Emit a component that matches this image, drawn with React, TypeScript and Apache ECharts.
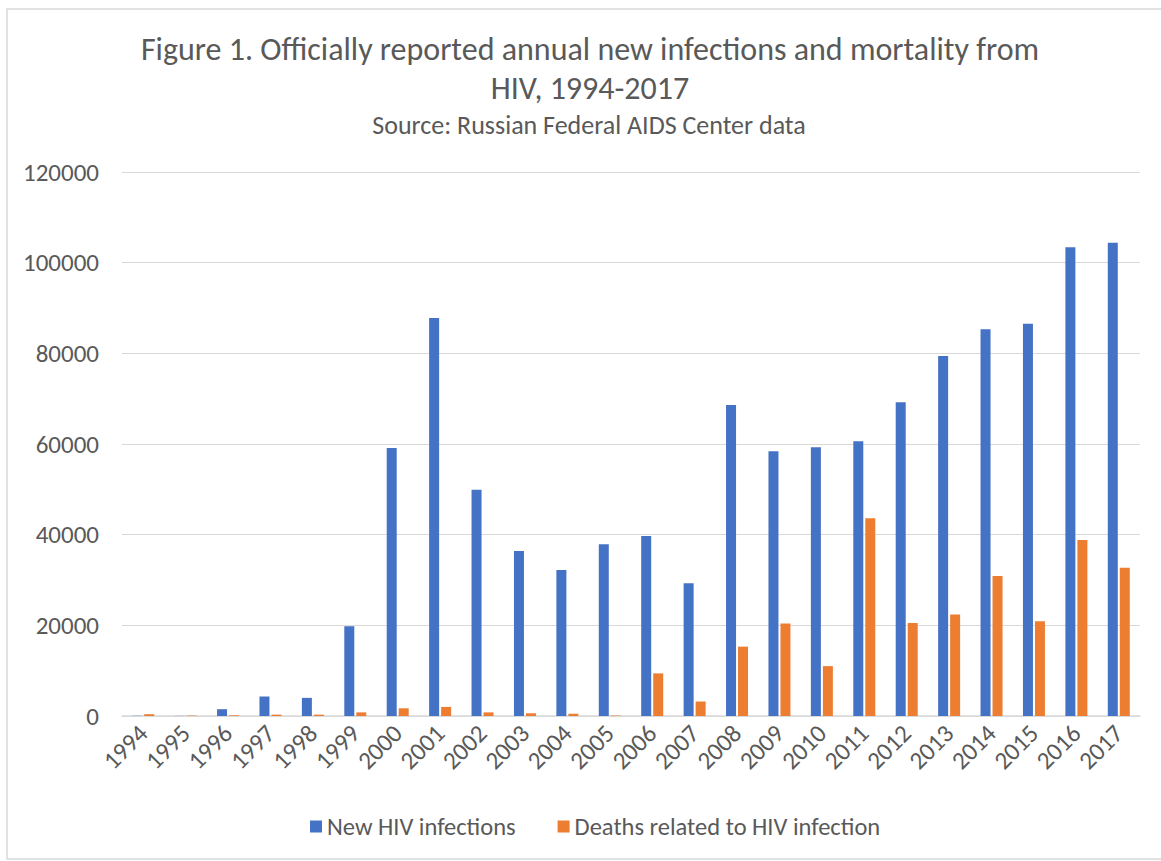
import React, { useEffect, useRef } from "react";
import * as echarts from "echarts";

const years = ["1994","1995","1996","1997","1998","1999","2000","2001","2002","2003","2004","2005","2006","2007","2008","2009","2010","2011","2012","2013","2014","2015","2016","2017"];
const newInfections = [50, 30, 1500, 4300, 4000, 19800, 59100, 87800, 49900, 36400, 32200, 37900, 39700, 29300, 68600, 58400, 59300, 60600, 69200, 79400, 85300, 86500, 103400, 104400];
const deaths = [400, 100, 150, 300, 300, 800, 1700, 2000, 800, 600, 500, 100, 9400, 3200, 15300, 20400, 11000, 43600, 20500, 22400, 30900, 20900, 38800, 32700];
const yTicks = { min: 0, max: 120000, interval: 20000 };
const titleLines = ["Figure 1. Officially reported annual new infections and mortality from", "HIV, 1994-2017"];
const subtitle = "Source: Russian Federal AIDS Center data";

const FONT = "Carlito, Calibri, Lato, sans-serif";
const TEXT = "#595959";

export default function App() {
  const ref = useRef<HTMLDivElement>(null);
  useEffect(() => {
    const chart = echarts.init(ref.current!, null, { renderer: "svg" });
    chart.setOption({
      animation: false,
      backgroundColor: "#ffffff",
      textStyle: { fontFamily: FONT },
      graphic: [
        { type: "rect", shape: { x: 7, y: 9, width: 1170, height: 850 }, style: { fill: "none", stroke: "#d9d9d9", lineWidth: 1.5 }, silent: true },
        { type: "text", x: 590, y: 49, style: { text: titleLines[0], font: `32px ${FONT}`, fill: TEXT, align: "center", verticalAlign: "middle" }, silent: true },
        { type: "text", x: 590, y: 88, style: { text: titleLines[1], font: `32px ${FONT}`, fill: TEXT, align: "center", verticalAlign: "middle" }, silent: true },
        { type: "text", x: 589, y: 125, style: { text: subtitle, font: `26px ${FONT}`, fill: TEXT, align: "center", verticalAlign: "middle" }, silent: true },
      ],
      legend: {
        top: 809,
        left: 305,
        icon: "rect",
        itemWidth: 12,
        itemHeight: 12,
        itemGap: 42,
        textStyle: { fontFamily: FONT, fontSize: 24.5, color: TEXT },
        data: ["New HIV infections", "Deaths related to HIV infection"],
      },
      grid: { left: 122, right: 21, top: 172, bottom: 145, containLabel: false },
      xAxis: {
        type: "category",
        data: years,
        axisLine: { lineStyle: { color: "#d9d9d9", width: 1.5 } },
        axisTick: { show: false },
        axisLabel: { rotate: 45, fontFamily: FONT, fontSize: 25, color: TEXT, margin: 13, interval: 0 },
      },
      yAxis: {
        type: "value",
        min: yTicks.min,
        max: yTicks.max,
        interval: yTicks.interval,
        axisLine: { show: false },
        axisTick: { show: false },
        splitLine: { lineStyle: { color: "#d9d9d9", width: 1 } },
        axisLabel: { fontFamily: FONT, fontSize: 25, color: TEXT, margin: 23, formatter: (v: number) => String(v) },
      },
      series: [
        {
          name: "New HIV infections",
          type: "bar",
          data: newInfections,
          barWidth: 10,
          barGap: "20%",
          itemStyle: { color: "#4472C4" },
        },
        {
          name: "Deaths related to HIV infection",
          type: "bar",
          data: deaths,
          barWidth: 10,
          barGap: "20%",
          itemStyle: { color: "#ED7D31" },
        },
      ],
    });
    return () => chart.dispose();
  }, []);
  return <div ref={ref} style={{ position: "absolute", left: 0, top: 0, width: 1161, height: 861 }} />;
}
